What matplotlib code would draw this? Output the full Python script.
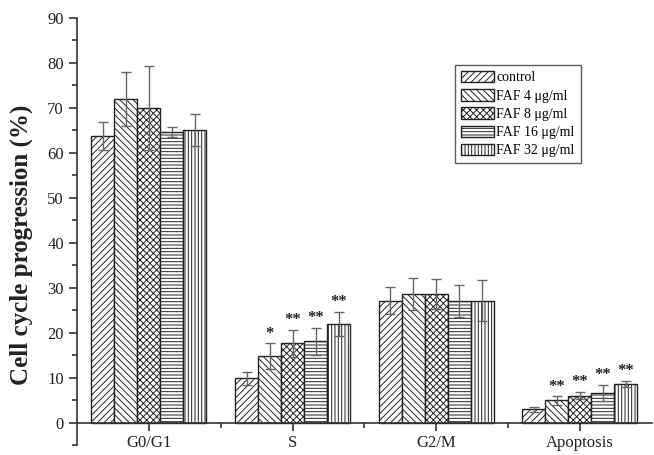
import numpy as np
import matplotlib.pyplot as plt
from matplotlib.ticker import MultipleLocator, FixedLocator

# =============================================================================
# Data
# =============================================================================

phases = ["G0/G1", "S", "G2/M", "Apoptosis"]
series = ["control", "FAF 4 \u03bcg/ml", "FAF 8 \u03bcg/ml", "FAF 16 \u03bcg/ml", "FAF 32 \u03bcg/ml"]

control = [63.8, 9.8, 27.1, 2.9]
faf4 = [72.0, 14.8, 28.6, 4.9]
faf8 = [70.0, 17.6, 28.6, 6.0]
faf16 = [64.6, 18.1, 27.0, 6.6]
faf32 = [65.1, 21.9, 27.1, 8.6]

err_control = [3.1, 1.5, 3.0, 0.6]
err_faf4 = [6.0, 2.8, 3.5, 0.9]
err_faf8 = [9.3, 3.0, 3.4, 0.8]
err_faf16 = [1.1, 3.0, 3.6, 1.8]
err_faf32 = [3.6, 2.7, 4.5, 0.7]

stars_control = ["", "", "", ""]
stars_faf4 = ["", "*", "", "**"]
stars_faf8 = ["", "**", "", "**"]
stars_faf16 = ["", "**", "", "**"]
stars_faf32 = ["", "**", "", "**"]

values = [control, faf4, faf8, faf16, faf32]
errors = [err_control, err_faf4, err_faf8, err_faf16, err_faf32]
stars = [stars_control, stars_faf4, stars_faf8, stars_faf16, stars_faf32]
hatches = ["/////", "\\\\\\\\\\", "xxxxx", "-----", "|||||"]

# =============================================================================
# Figure
# =============================================================================

plt.rcParams["font.family"] = ["Liberation Serif", "DejaVu Serif"]
plt.rcParams["hatch.linewidth"] = 0.7
plt.rcParams["hatch.color"] = "#333333"

fig = plt.figure(figsize=(6.54, 4.55), dpi=100)
ax = fig.add_axes([0.1177, 0.022, 0.879, 0.9385])

x_centers = np.arange(1, len(phases) + 1)
bar_w = 0.16
offsets = (np.arange(len(series)) - 2) * bar_w

for i, name in enumerate(series):
    xs = x_centers + offsets[i]
    ax.bar(
        xs,
        values[i],
        width=bar_w,
        facecolor="white",
        edgecolor="#222222",
        linewidth=1.0,
        hatch=hatches[i],
        label=name,
        zorder=2,
    )
    ax.errorbar(
        xs,
        values[i],
        yerr=errors[i],
        fmt="none",
        ecolor="#666666",
        elinewidth=1.0,
        capsize=3.5,
        capthick=1.0,
        zorder=3,
    )
    for x, v, e, s in zip(xs, values[i], errors[i], stars[i]):
        if s:
            ax.text(x, v + e + 0.4, s, ha="center", va="bottom",
                    fontsize=12, color="#222222", fontweight="bold")

# Axes styling
ax.set_xlim(0.5, 4.5)
ax.set_ylim(-5, 90)

ax.spines["top"].set_visible(False)
ax.spines["right"].set_visible(False)
ax.spines["bottom"].set_position(("data", 0))
for sp in ["left", "bottom"]:
    ax.spines[sp].set_linewidth(1.2)
    ax.spines[sp].set_color("#333333")

ax.set_xticks(x_centers)
ax.set_xticklabels(phases)
ax.xaxis.set_minor_locator(FixedLocator([1.5, 2.5, 3.5]))
ax.set_yticks(np.arange(0, 91, 10))
ax.yaxis.set_minor_locator(MultipleLocator(5))

ax.tick_params(axis="both", which="major", direction="out", length=6,
               width=1.2, color="#333333", labelsize=12, labelcolor="#222222")
ax.tick_params(axis="both", which="minor", direction="out", length=3.5,
               width=1.2, color="#333333")
ax.tick_params(axis="x", which="major", pad=3)

ax.set_ylabel("Cell cycle progression (%)", fontsize=18, fontweight="bold",
              color="#222222")
ax.yaxis.set_label_coords(-0.077, 0.468)

leg = ax.legend(
    loc="upper left",
    bbox_to_anchor=(0.658, 0.89),
    frameon=True,
    fancybox=False,
    edgecolor="#333333",
    fontsize=10,
    handlelength=2.35,
    handleheight=0.9,
    handletextpad=0.2,
    labelspacing=0.34,
    borderpad=0.42,
    borderaxespad=0.0,
)
leg.get_frame().set_linewidth(1.0)

fig.savefig("out.png", dpi=100)
